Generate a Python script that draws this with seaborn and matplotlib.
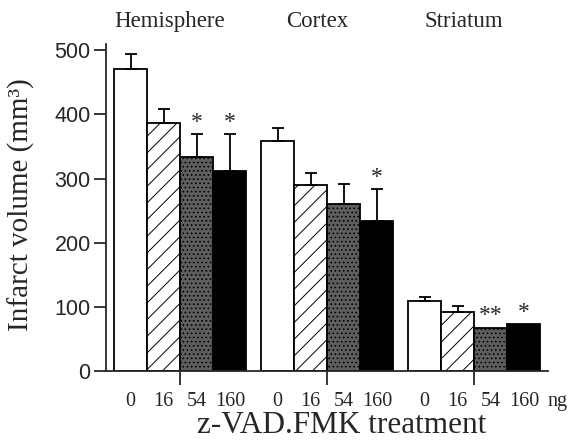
import numpy as np
import pandas as pd
import seaborn as sns
import matplotlib.pyplot as plt

# data
regions = ["Hemisphere", "Cortex", "Striatum"]
doses = ["0", "16", "54", "160"]
hemisphere = [470, 387, 333, 312]
cortex = [358, 290, 260, 234]
striatum = [110, 93, 68, 74]
hemisphere_err = [24, 21, 36, 57]
cortex_err = [21, 19, 31, 50]
striatum_err = [6, 9, 0, 0]
hemisphere_sig = ["", "", "*", "*"]
cortex_sig = ["", "", "", "*"]
striatum_sig = ["", "", "**", "*"]

sns.set_style("ticks")
plt.rcParams["hatch.linewidth"] = 0.7
serif = ["Liberation Serif", "DejaVu Serif"]
sans = ["Liberation Sans", "DejaVu Sans"]

vals = [hemisphere, cortex, striatum]
errs = [hemisphere_err, cortex_err, striatum_err]
sigs = [hemisphere_sig, cortex_sig, striatum_sig]
df = pd.DataFrame({
    "region": np.repeat(regions, len(doses)),
    "dose": doses * len(regions),
    "volume": np.concatenate(vals),
})

fig = plt.figure(figsize=(5.73, 4.41), dpi=100)
ax = fig.add_axes([0.185, 0.1576, 0.771, 0.7435])

faces = ["white", "white", "#5e5e5e", "black"]
hatches = ["", "//", "....", ""]
sns.barplot(data=df, x="region", y="volume", hue="dose", order=regions,
            hue_order=doses, width=0.9, errorbar=None, legend=False,
            edgecolor="black", linewidth=1.3, ax=ax)

bar_groups = list(ax.containers)
for j, cont in enumerate(bar_groups):
    for bar in cont.patches:
        bar.set_facecolor(faces[j])
        bar.set_hatch(hatches[j])
        bar.set_edgecolor("black")

centers = []
for i in range(len(regions)):
    for j, cont in enumerate(bar_groups):
        bar = cont.patches[i]
        xc = bar.get_x() + bar.get_width() / 2
        centers.append(xc)
        top = vals[i][j]
        e = errs[i][j]
        if e > 0:
            ax.errorbar(xc, top, yerr=[[0], [e]], fmt="none", ecolor="black",
                        elinewidth=1.3, capsize=4, capthick=1.3)
        if sigs[i][j]:
            ax.text(xc, top + e + 2, sigs[i][j], ha="center", va="bottom",
                    fontsize=17, family=serif)

ax.set_xlim(-0.505, 2.5)
ax.set_ylim(0, 510)
ax.set_yticks([0, 100, 200, 300, 400, 500])
ax.set_yticklabels(["0", "100", "200", "300", "400", "500"], family=sans,
                   fontsize=15.5)
ax.tick_params(axis="y", length=9, width=1.3, pad=2)

# group ticks on the axis, dose labels under each bar
ax.set_xticks(range(len(regions)))
ax.set_xticklabels([""] * len(regions))
ax.tick_params(axis="x", which="major", length=10, width=1.3)
ax.set_xticks(centers, doses * len(regions), minor=True)
ax.tick_params(axis="x", which="minor", length=0, pad=15, labelsize=14.5)
for lab in ax.get_xticklabels(minor=True):
    lab.set_family(serif)
ax.annotate("ng", xy=(centers[-1], 0), xycoords=("data", "axes fraction"),
            xytext=(17, -15), textcoords="offset points", ha="left",
            va="top", fontsize=14.5, family=serif)

for i, r in enumerate(regions):
    ax.text(i - 0.07, 1.066, r, transform=ax.get_xaxis_transform(),
            ha="center", va="center", fontsize=16.5, family=serif)

sns.despine(ax=ax)
for s in ["left", "bottom"]:
    ax.spines[s].set_linewidth(1.3)

ax.set_xlabel("")
ax.set_ylabel("")
fig.text(0.597, 0.003, "z-VAD.FMK treatment", ha="center", va="bottom",
         fontsize=22.5, family=serif)
fig.text(0.038, 0.537, "Infarct volume (mm³)", ha="center", va="center",
         rotation=90, fontsize=21, family=serif)

fig.savefig("out.png", dpi=100)
